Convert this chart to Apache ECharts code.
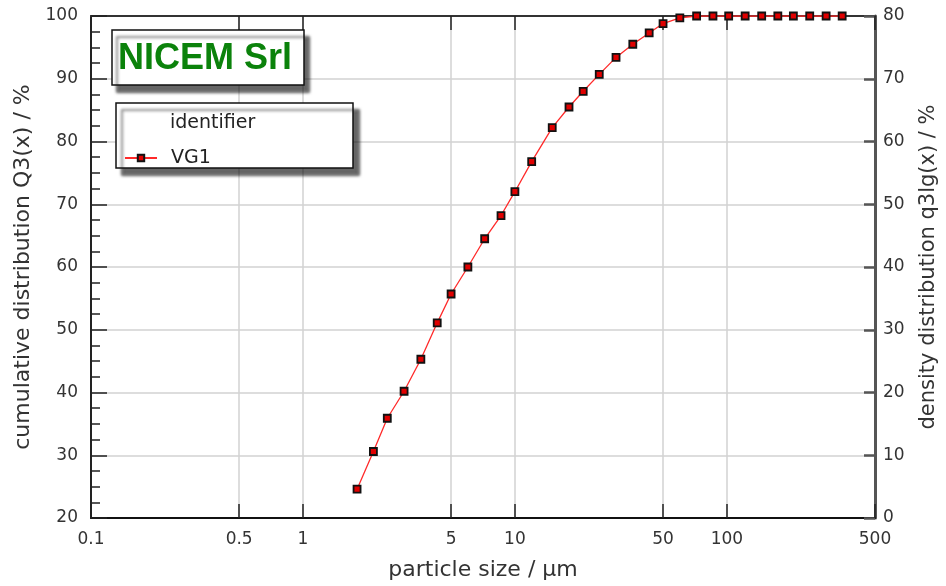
<!DOCTYPE html>
<html>
<head>
<meta charset="utf-8">
<script src="https://cdn.jsdelivr.net/npm/echarts@6/dist/echarts.min.js"></script>
<style>html,body{margin:0;padding:0;background:#fff}#c{width:946px;height:586px}</style>
</head>
<body>
<div id="c"></div>
<script>
// particle size classes (µm)
var sizes = [1.8, 2.15, 2.5, 3.0, 3.6, 4.3, 5.0, 6.0, 7.2, 8.6, 10, 12, 15, 18, 21, 25, 30, 36, 43, 50, 60, 72, 86, 102, 122, 146, 174, 206, 246, 294, 350];
// cumulative distribution Q3(x) / %
var q3 = [24.6, 30.6, 35.9, 40.2, 45.3, 51.1, 55.7, 60.0, 64.5, 68.2, 72.0, 76.8, 82.2, 85.5, 88.0, 90.7, 93.4, 95.5, 97.3, 98.8, 99.7, 100, 100, 100, 100, 100, 100, 100, 100, 100, 100];
var xTicks = [0.1, 0.5, 1, 5, 10, 50, 100, 500];
var xTicksTop = [0.5, 1, 5, 10, 50, 100, 500];
var seriesName = 'VG1';
var titleText = 'NICEM Srl';
var legendHeader = 'identifier';

var data = sizes.map(function (s, i) { return [s, q3[i]]; });
var FONT = 'DejaVu Sans';
var chart = echarts.init(document.getElementById('c'));
chart.setOption({
  animation: false,
  backgroundColor: '#fff',
  grid: { left: 91, right: 71, top: 16, bottom: 68, outerBoundsMode: 'none' },
  xAxis: [{
    type: 'log', logBase: 10, min: 0.1, max: 500, position: 'bottom',
    name: 'particle size / µm', nameLocation: 'middle', nameGap: 41,
    nameTextStyle: { fontFamily: FONT, fontSize: 22, color: '#333' },
    axisLine: { lineStyle: { color: '#111', width: 2 } },
    axisTick: { inside: true, length: 14, customValues: xTicks, lineStyle: { color: '#222', width: 1.5 } },
    minorTick: { show: false },
    axisLabel: { customValues: xTicks, margin: 13, fontFamily: FONT, fontSize: 17, color: '#333',
      formatter: function (v) { return String(+(+v).toPrecision(3)); } },
    splitLine: { show: true, lineStyle: { color: '#d2d2d2', width: 1.5 } }
  }, {
    type: 'log', logBase: 10, min: 0.1, max: 500, position: 'top',
    axisLine: { lineStyle: { color: '#333', width: 2 } },
    axisTick: { inside: true, length: 14, customValues: xTicksTop, lineStyle: { color: '#222', width: 1.5 } },
    axisLabel: { show: false },
    splitLine: { show: false }
  }],
  yAxis: [{
    type: 'value', min: 20, max: 100, interval: 10, position: 'left',
    name: 'cumulative distribution Q3(x) / %', nameLocation: 'middle', nameGap: 56,
    nameTextStyle: { fontFamily: FONT, fontSize: 22, color: '#333' },
    axisLine: { show: true, lineStyle: { color: '#222', width: 2 } },
    axisTick: { show: true, inside: true, length: 16, lineStyle: { color: '#222', width: 1.5 } },
    minorTick: { show: true, splitNumber: 4, length: 9, lineStyle: { color: '#222', width: 1.5 } },
    axisLabel: { margin: 13, fontFamily: FONT, fontSize: 17, color: '#333' },
    splitLine: { show: true, lineStyle: { color: '#d2d2d2', width: 1.5 } }
  }, {
    type: 'value', min: 0, max: 80, interval: 10, position: 'right',
    name: 'density distribution q3lg(x) / %', nameLocation: 'middle', nameGap: 43,
    nameTextStyle: { fontFamily: FONT, fontSize: 21, color: '#333' },
    axisLine: { show: true, lineStyle: { color: '#555', width: 3 } },
    axisTick: { show: true, inside: true, length: 11, lineStyle: { color: '#555', width: 2.5 } },
    axisLabel: { margin: 8, fontFamily: FONT, fontSize: 17, color: '#333' },
    splitLine: { show: false }
  }],
  legend: {
    data: [seriesName], left: 124, top: 148, padding: 0, z: 30,
    itemWidth: 32, itemHeight: 8,
    textStyle: { fontFamily: FONT, fontSize: 19, lineHeight: 20, color: '#222', padding: [0, 0, 0, 9] }
  },
  graphic: [
    { type: 'rect', z: 20, shape: { x: 112, y: 30, width: 192, height: 55 },
      style: { fill: '#fff', stroke: '#111', lineWidth: 1.5, shadowColor: 'rgba(0,0,0,0.6)', shadowBlur: 3, shadowOffsetX: 5, shadowOffsetY: 7 } },
    { type: 'text', z: 21, x: 205, y: 59, style: { text: titleText, fill: '#0b820b', font: 'bold 36px "Liberation Sans", Arial, sans-serif', align: 'center', verticalAlign: 'middle' } },
    { type: 'rect', z: 20, shape: { x: 116, y: 103, width: 237, height: 65 },
      style: { fill: '#fff', stroke: '#111', lineWidth: 1.5, shadowColor: 'rgba(0,0,0,0.6)', shadowBlur: 3, shadowOffsetX: 6, shadowOffsetY: 7 } },
    { type: 'text', z: 21, x: 170, y: 123, style: { text: legendHeader, fill: '#222', font: '19px "DejaVu Sans", sans-serif', align: 'left', verticalAlign: 'middle' } }
  ],
  series: [{
    name: seriesName, type: 'line', xAxisIndex: 0, yAxisIndex: 0, data: data,
    symbol: 'rect', symbolSize: 7, showAllSymbol: true,
    lineStyle: { color: '#ff2a2a', width: 1.3 },
    itemStyle: { color: '#e00000', borderColor: '#111', borderWidth: 1.8 },
    z: 5
  }]
});
</script>
</body>
</html>
